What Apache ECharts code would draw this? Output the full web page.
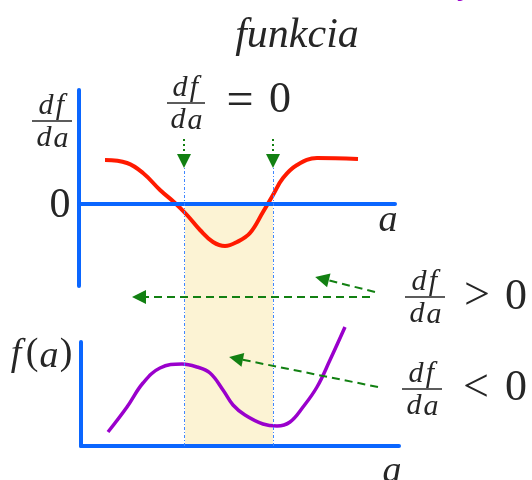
<!DOCTYPE html>
<html><head><meta charset="utf-8">
<script src="https://cdn.jsdelivr.net/npm/echarts@6/dist/echarts.min.js"></script>
<style>html,body{margin:0;padding:0;background:#fff}#c{width:532px;height:480px}</style>
</head><body><div id="c"></div>
<script>
// derivative curve df/da (top panel)
const derivX = [2.6, 4.8, 6.4, 8.1, 9.6, 10.8, 12.1, 13.4, 14.6, 15.8, 17.1, 18.4, 19.4, 20.4, 21.8, 23.8, 27.9];
const derivY = [0.44, 0.41, 0.31, 0.14, 0.01, -0.11, -0.26, -0.38, -0.42, -0.38, -0.29, -0.08, 0.09, 0.26, 0.39, 0.46, 0.45];
// function f(a) (bottom panel)
const funcX = [2.7, 4.6, 6.2, 7.9, 10.1, 11.6, 12.9, 14.2, 15.2, 16.4, 18.2, 19.6, 20.9, 22.2, 23.6, 24.9, 26.4];
const funcY = [0.14, 0.39, 0.63, 0.78, 0.82, 0.79, 0.73, 0.56, 0.41, 0.31, 0.22, 0.20, 0.24, 0.39, 0.59, 0.86, 1.19];
// stationary points (df/da = 0) and the decreasing interval
const stationaryX = [10.5, 19.4];
const decreasingRange = [10.6, 19.4];
// labels
const titleText = 'funkcia';
const zeroLabel = '0';
const axisVar = 'a';

const blue = '#0a66ff', red = '#ff1a00', purple = '#9a00cc', green = '#128012', ink = '#262626';
const serif = '"Liberation Serif", "DejaVu Serif", serif';

function zip(a, b) { return a.map((v, i) => [v, b[i]]); }
function txt(t, x, y, size, italic, color) {
  return { type: 'text', z: 10, style: { text: t, x: x, y: y,
    font: (italic ? 'italic ' : '') + size + 'px ' + serif, fill: color || ink, align: 'center', verticalAlign: 'middle' } };
}
function frac(cx, barY, halfW, size) {
  return [
    txt('d', cx - 6, barY - 15, size, true), txt('f', cx + 8, barY - 15, size, true),
    { type: 'line', z: 10, shape: { x1: cx - halfW, y1: barY, x2: cx + halfW, y2: barY }, style: { stroke: ink, lineWidth: 1.6 } },
    txt('d', cx - 8, barY + 17, size, true), txt('a', cx + 9, barY + 18, size, true)
  ];
}

const graphics = [].concat(
  [txt('y', 468, -15, 34, true, purple)],
  [txt(titleText, 297, 36, 42, true)],
  frac(52, 121, 20, 30),
  [txt(zeroLabel, 60, 206, 42, false)],
  [txt(axisVar, 388, 221, 38, true)],
  frac(186, 103, 19, 30),
  [txt('=', 240, 102, 48, false), txt('0', 280, 100, 44, false)],
  frac(425, 297, 20, 30),
  [txt('>', 477, 297, 46, false), txt('0', 516, 297, 44, false)],
  frac(422, 389, 20, 30),
  [txt('<', 476, 389, 46, false), txt('0', 516, 388, 44, false)],
  [txt('f', 16, 355, 38, true), txt('(', 32, 354, 38, false), txt('a', 49, 357, 38, true), txt(')', 66, 354, 38, false)],
  [txt(axisVar, 392, 472, 38, true)]
);

const axLine = { show: true, onZero: true, lineStyle: { color: blue, width: 4 } };
function visAxis(grid, min, max) {
  return { type: 'value', gridIndex: grid, min: min, max: max, z: 4, axisLine: axLine,
    axisTick: { show: false }, axisLabel: { show: false }, splitLine: { show: false } };
}
function hidAxis(grid, min, max) {
  return { type: 'value', gridIndex: grid, min: min, max: max, show: false, splitLine: { show: false } };
}
function seg(x1, y1, x2, y2, style) {
  const a = { coord: [x1, y1] };
  if (style) a.lineStyle = style;
  return [a, { coord: [x2, y2] }];
}
const dotted = { type: [2, 3], width: 2, color: green };

const option = {
  animation: false,
  backgroundColor: '#fff',
  grid: [
    { left: 79, top: 90, width: 316, height: 196 },
    { left: 81, top: 342, width: 318, height: 104 },
    { left: 79, top: 80, width: 316, height: 366 }
  ],
  xAxis: [visAxis(0, 0, 31.6), visAxis(1, 0, 31.8), hidAxis(2, 0, 31.6)],
  yAxis: [visAxis(0, -0.82, 1.14), visAxis(1, 0, 1.04), hidAxis(2, 0, 366)],
  graphic: graphics,
  series: [
    {
      type: 'line', xAxisIndex: 2, yAxisIndex: 2, z: 1, data: [], silent: true,
      markArea: { silent: true, itemStyle: { color: '#fcf3d4' },
        data: [[{ xAxis: decreasingRange[0], yAxis: 0 }, { xAxis: decreasingRange[1], yAxis: 242 }]] },
      markLine: { silent: true, symbol: ['none', 'none'], label: { show: false },
        lineStyle: { color: '#3f86ff', width: 1, type: [3, 2, 1, 2] },
        data: stationaryX.map(x => seg(x, 0, x, 278)) }
    },
    {
      type: 'line', xAxisIndex: 2, yAxisIndex: 2, z: 2, data: [], silent: true,
      markLine: { silent: true, symbol: ['none', 'triangle'], symbolSize: [14, 14], label: { show: false },
        lineStyle: { color: green, width: 2, type: [8, 5] },
        data: [
          seg(stationaryX[0], 307, stationaryX[0], 285, dotted),
          seg(stationaryX[1], 307, stationaryX[1], 285, dotted),
          seg(29.1, 149, 6.0, 149),
          seg(29.6, 154, 24.3, 167.3),
          seg(29.9, 59, 15.7, 87.6)
        ] }
    },
    { type: 'line', xAxisIndex: 0, yAxisIndex: 0, z: 3, data: zip(derivX, derivY), smooth: 0.4,
      showSymbol: false, symbol: 'none', clip: false, lineStyle: { color: red, width: 4 } },
    { type: 'line', xAxisIndex: 1, yAxisIndex: 1, z: 3, data: zip(funcX, funcY), smooth: 0.4,
      showSymbol: false, symbol: 'none', clip: false, lineStyle: { color: purple, width: 3.5 } }
  ]
};
const chart = echarts.init(document.getElementById('c'), null, { renderer: 'canvas' });
chart.setOption(option);
</script></body></html>
